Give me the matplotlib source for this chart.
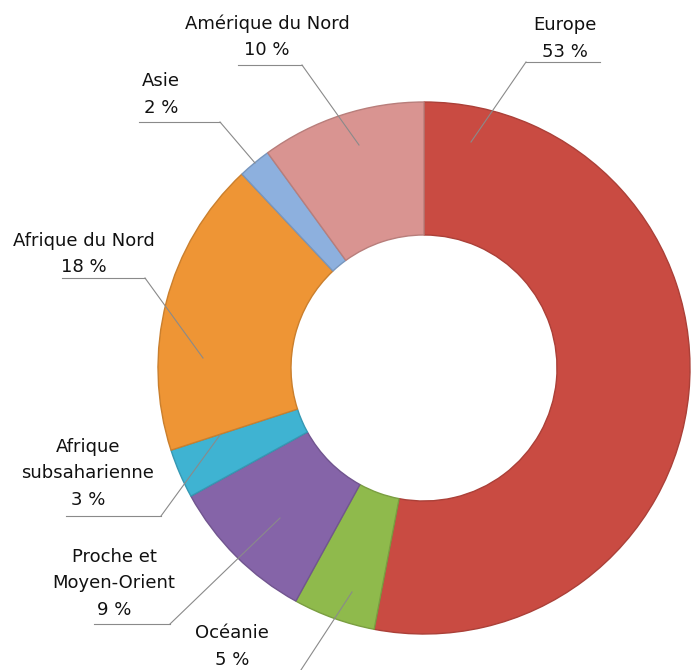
import matplotlib.pyplot as plt
from matplotlib.colors import to_rgb

# Data
regions = ["Europe", "Océanie", "Proche et\nMoyen-Orient", "Afrique\nsubsaharienne",
           "Afrique du Nord", "Asie", "Amérique du Nord"]
shares = [53, 5, 9, 3, 18, 2, 10]
colors = ["#c94b42", "#8fba4c", "#8564a8", "#3fb3d2", "#ee9535", "#8db0de", "#d99491"]

# Layout in pixels (x, y from top): label centre x, last line y, underline x range/y, leader tip
label_x = [565, 232, 114, 88, 84, 161, 267]
label_y = [52, 660, 610, 500, 267, 108, 50]
line_y = [62, 676, 624, 516, 278, 122, 65]
line_x0 = [526, 200, 94, 66, 62, 139, 238]
line_x1 = [600, 297, 170, 161, 145, 220, 302]
anchor = [526, 297, 170, 161, 145, 220, 302]
tips = [(471, 142), (352, 592), (280, 518), (220, 435), (203, 358), (255, 163), (359, 145)]

W, H = 691, 670


def py(y):
    return H - y


def darker(c, f=0.85):
    r, g, b = to_rgb(c)
    return (r * f, g * f, b * f)


fig = plt.figure(figsize=(W / 100, H / 100), dpi=100)
ax = fig.add_axes([0, 0, 1, 1])

ax.pie(shares, colors=colors, startangle=90, counterclock=False,
       center=(424, py(368)), radius=266,
       wedgeprops=dict(width=133, linewidth=1.0))
for w, c in zip(ax.patches, colors):
    w.set_edgecolor(darker(c))

ax.set_xlim(0, W)
ax.set_ylim(0, H)
ax.set_aspect("equal")
ax.axis("off")

for i, (name, v) in enumerate(zip(regions, shares)):
    lines = name.split("\n") + [f"{v} %"]
    n = len(lines)
    for j, txt in enumerate(lines):
        y = label_y[i] - (n - 1 - j) * 26.5
        ax.text(label_x[i], py(y), txt, ha="center", va="center",
                fontsize=13, color="#111111")
    ax.plot([line_x0[i], line_x1[i]], [py(line_y[i]), py(line_y[i])],
            color="#8a8a8a", lw=0.8, clip_on=False)
    ax.plot([anchor[i], tips[i][0]], [py(line_y[i]), py(tips[i][1])],
            color="#8a8a8a", lw=0.8, clip_on=False)

fig.savefig("out.png", dpi=100)
